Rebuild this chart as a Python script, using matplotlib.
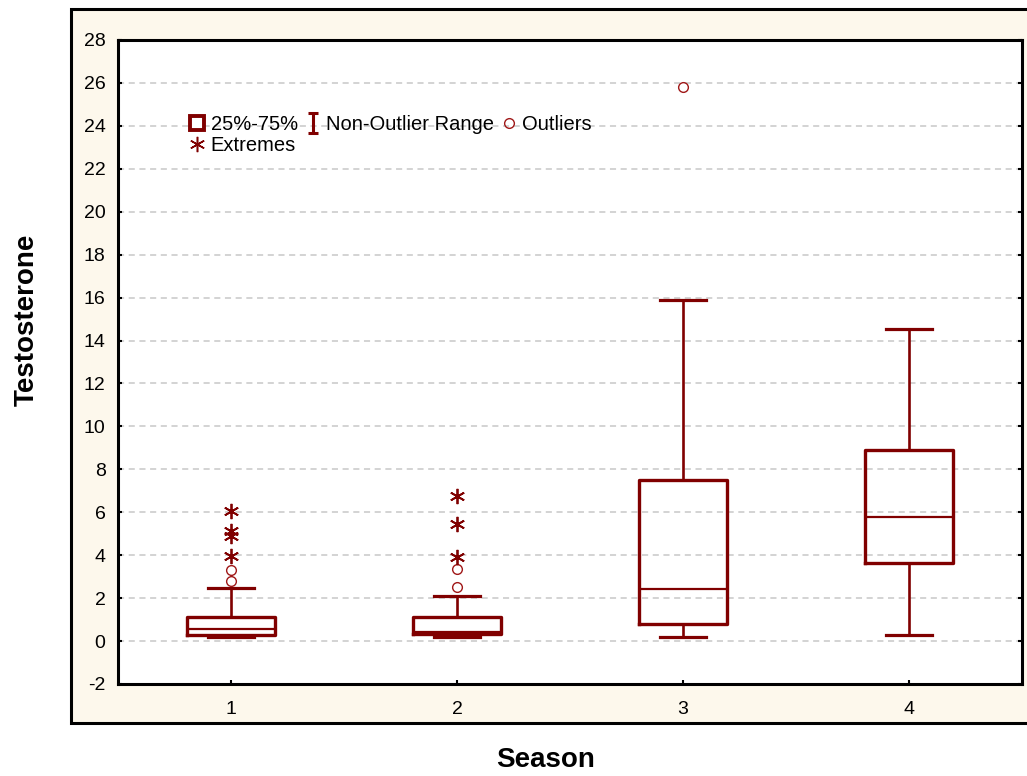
import numpy as np
import matplotlib
matplotlib.use('Agg')
import matplotlib.pyplot as plt
from matplotlib.lines import Line2D
from matplotlib.path import Path
from matplotlib.patches import Rectangle

plt.rcParams['font.family'] = ['Liberation Sans', 'DejaVu Sans']
plt.rcParams['axes.unicode_minus'] = False

# datos
seasons = [1, 2, 3, 4]
q1 = [0.30, 0.32, 0.80, 3.65]
mediana = [0.56, 0.42, 2.44, 5.79]
q3 = [1.11, 1.11, 7.50, 8.90]
bigote_inf = [0.17, 0.17, 0.17, 0.28]
bigote_sup = [2.46, 2.10, 15.90, 14.55]
outliers = [[2.80, 3.32], [2.53, 3.35], [25.8], []]
extremos = [[3.94, 4.91, 5.14, 6.08], [3.90, 5.46, 6.75], [], []]

rojo = '#800000'
crema = '#fdf8ec'

fig = plt.figure(figsize=(10.27, 7.76), dpi=100)
fig.patches.append(Rectangle((71 / 1027, 1 - 723 / 776), 1.0, (723 - 9) / 776,
                             transform=fig.transFigure, facecolor=crema,
                             edgecolor='black', linewidth=2.2, zorder=-10))
ax = fig.add_axes([118 / 1027, 1 - 684 / 776, (1022 - 118) / 1027, (684 - 40) / 776])
ax.set_facecolor('white')

stats = []
for i in range(len(seasons)):
    stats.append({'med': mediana[i], 'q1': q1[i], 'q3': q3[i],
                  'whislo': bigote_inf[i], 'whishi': bigote_sup[i],
                  'fliers': outliers[i], 'label': str(seasons[i])})

ax.bxp(stats, positions=seasons, widths=0.39, capwidths=0.2, showfliers=True,
       boxprops=dict(color=rojo, linewidth=2.4),
       medianprops=dict(color=rojo, linewidth=1.6),
       whiskerprops=dict(color=rojo, linewidth=1.9),
       capprops=dict(color=rojo, linewidth=2.3),
       flierprops=dict(marker='o', markersize=7, markerfacecolor='none',
                       markeredgecolor='#a01818', markeredgewidth=1.0),
       zorder=3)

# extremos con asterisco
for s, vals in zip(seasons, extremos):
    if vals:
        ax.plot([s] * len(vals), vals, linestyle='none', marker=(6, 2, 0),
                markersize=11, markeredgecolor=rojo, markeredgewidth=1.3, zorder=4)

ax.set_xlim(0.5, 4.5)
ax.set_ylim(-2, 28)
ax.set_yticks(np.arange(-2, 29, 2))
ax.set_xticks(seasons)
ax.set_xticklabels([str(s) for s in seasons])
ax.grid(axis='y', linestyle=(0, (4, 3)), color='#c8c8c8', linewidth=1.1, zorder=0)
ax.set_axisbelow(True)
ax.tick_params(axis='both', direction='in', length=3, width=1.5, labelsize=14,
               right=True)
ax.tick_params(axis='y', pad=9)
ax.tick_params(axis='x', pad=12)
for sp in ax.spines.values():
    sp.set_linewidth(2.2)

# leyenda
ibeam = Path([(-0.5, 1), (0.5, 1), (0, 1), (0, -1), (-0.5, -1), (0.5, -1)],
             [Path.MOVETO, Path.LINETO, Path.MOVETO, Path.LINETO, Path.MOVETO, Path.LINETO])
handles = [
    Line2D([], [], linestyle='none', marker='s', markersize=10, markerfacecolor='white',
           markeredgecolor=rojo, markeredgewidth=2.8),
    Line2D([], [], linestyle='none', marker=(6, 2, 0), markersize=11,
           markeredgecolor=rojo, markeredgewidth=1.1),
    Line2D([], [], linestyle='none', marker=ibeam, markersize=15,
           markeredgecolor=rojo, markeredgewidth=2.2),
    Line2D([], [], linestyle='none', marker='o', markersize=7, markerfacecolor='none',
           markeredgecolor='#a01818', markeredgewidth=1.0),
]
labels = ['25%-75%', 'Extremes', 'Non-Outlier Range', 'Outliers']
ax.legend(handles, labels, ncol=3, loc='upper left', bbox_to_anchor=(0.079, 0.884),
          frameon=False, fontsize=14.5, handlelength=0.8, handletextpad=0.25,
          columnspacing=0.35, labelspacing=0.12, borderpad=0, borderaxespad=0)

fig.text(27 / 1027, 1 - 320 / 776, 'Testosterone', rotation=90, fontsize=20,
         fontweight='bold', ha='center', va='center')
fig.text(546 / 1027, 1 - 760 / 776, 'Season', fontsize=20, fontweight='bold',
         ha='center', va='center')

fig.savefig('out.png', dpi=100, facecolor='white')
